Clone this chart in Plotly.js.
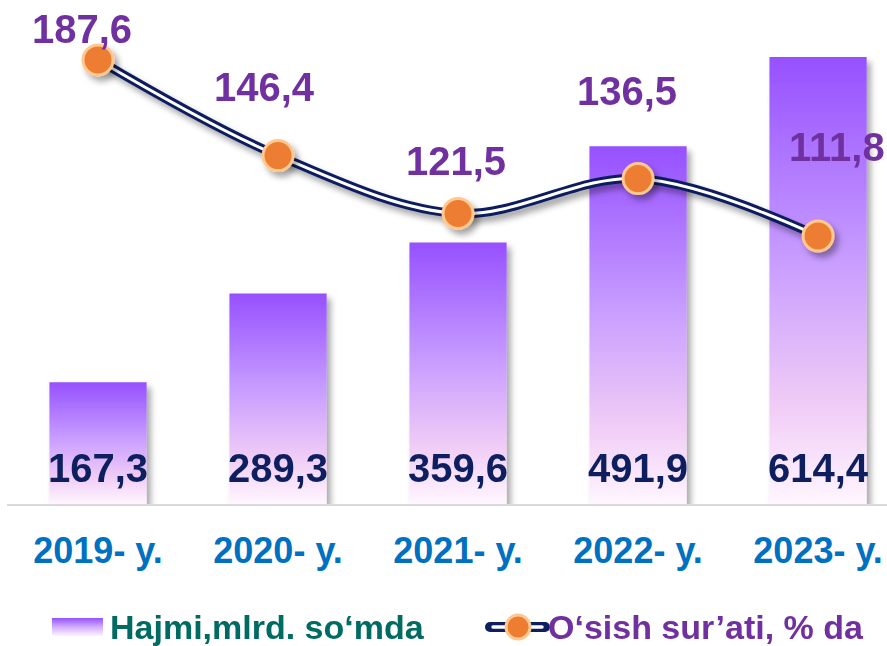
<!DOCTYPE html>
<html>
<head>
<meta charset="utf-8">
<script src="https://cdn.plot.ly/plotly-3.0.1.min.js"></script>
<style>
  html, body { margin: 0; padding: 0; background: #ffffff; }
  #chart { width: 887px; height: 646px; }
</style>
</head>
<body>
<div id="chart"></div>
<script>
// ---- data ----
const categories = ['2019- y.', '2020- y.', '2021- y.', '2022- y.', '2023- y.'];
const volume = [167.3, 289.3, 359.6, 491.9, 614.4];      // Hajmi, mlrd. so'mda
const growth = [187.6, 146.4, 121.5, 136.5, 111.8];      // O'sish sur'ati, %
const volumeName = 'Hajmi,mlrd. so‘mda';
const growthName = 'O‘sish sur’ati, % da';

// ---- label placement (pixel offsets from each point) ----
const growthLabelShift = [[-16, -31], [-14, -69], [-2, -52], [-11, -88], [19, -89]];

const FONT = 'Arial, "Liberation Sans", sans-serif';
const NAVY = '#0D1F5E';
const PURPLE = '#7030A0';
const BLUE = '#0070C0';
const TEAL = '#006B63';
const ORANGE = '#ED7D31';
const ORANGE_RIM = '#FFC88F';

const fmt = v => v.toFixed(1).replace('.', ',');

const traces = [
  {
    type: 'bar', x: categories, y: volume, name: volumeName,
    width: 0.54, marker: { color: '#B884FF', line: { width: 0 } },
    hoverinfo: 'skip', showlegend: false
  },
  {
    type: 'scatter', mode: 'lines', x: categories, y: growth, yaxis: 'y2',
    line: { color: NAVY, width: 9, shape: 'spline', smoothing: 1 },
    hoverinfo: 'skip', showlegend: false
  },
  {
    type: 'scatter', mode: 'lines', x: categories, y: growth, yaxis: 'y2',
    line: { color: '#ffffff', width: 3, shape: 'spline', smoothing: 1 },
    hoverinfo: 'skip', showlegend: false
  },
  {
    type: 'scatter', mode: 'markers', x: categories, y: growth, yaxis: 'y2', name: growthName,
    marker: { size: 30, color: ORANGE, line: { color: ORANGE_RIM, width: 3 } },
    hoverinfo: 'skip', showlegend: false
  }
];

const annotations = [];
categories.forEach((c, i) => {
  annotations.push({
    x: c, y: 0, xref: 'x', yref: 'y', yanchor: 'bottom', yshift: 12,
    text: fmt(volume[i]), showarrow: false,
    font: { family: FONT, size: 40, weight: 'bold', color: NAVY }
  });
  annotations.push({
    x: c, y: growth[i], xref: 'x', yref: 'y2', xanchor: 'center', yanchor: 'middle',
    xshift: growthLabelShift[i][0], yshift: -growthLabelShift[i][1],
    text: fmt(growth[i]), showarrow: false,
    font: { family: FONT, size: 40, weight: 'bold', color: PURPLE }
  });
});

// legend (custom, drawn in paper coordinates)
const PL = 7, PW = 880, PH = 504;
const px = x => (x - PL) / PW;
const py = y => (PH - y) / PH;
annotations.push({
  x: px(108), y: py(627), xref: 'paper', yref: 'paper', xanchor: 'left', yanchor: 'middle',
  text: volumeName, showarrow: false,
  font: { family: FONT, size: 34, weight: 'bold', color: TEAL }
});
annotations.push({
  x: px(546), y: py(627), xref: 'paper', yref: 'paper', xanchor: 'left', yanchor: 'middle',
  text: growthName, showarrow: false,
  font: { family: FONT, size: 34, weight: 'bold', color: PURPLE }
});

const shapes = [
  { type: 'rect', xref: 'paper', yref: 'paper', x0: px(52), x1: px(103), y0: py(618), y1: py(636),
    fillcolor: '#B884FF', line: { width: 0 } },
  { type: 'line', xref: 'paper', yref: 'paper', x0: px(490), x1: px(545), y0: py(627), y1: py(627),
    line: { color: NAVY, width: 10 } },
  { type: 'line', xref: 'paper', yref: 'paper', x0: px(493), x1: px(542), y0: py(627), y1: py(627),
    line: { color: '#ffffff', width: 3.5 } },
  { type: 'circle', xref: 'paper', yref: 'paper', x0: px(506), x1: px(530), y0: py(615), y1: py(639),
    fillcolor: ORANGE, line: { color: ORANGE_RIM, width: 3 } }
];

const layout = {
  width: 887, height: 646,
  margin: { l: 7, r: 0, t: 0, b: 142 },
  paper_bgcolor: '#ffffff', plot_bgcolor: 'rgba(0,0,0,0)',
  showlegend: false,
  xaxis: {
    type: 'category', range: [-0.5056, 4.383],
    showline: true, linecolor: '#D9D9D9', linewidth: 2,
    ticks: '', showgrid: false, zeroline: false,
    ticklabelstandoff: 14,
    tickfont: { family: FONT, size: 36, weight: 'bold', color: BLUE }
  },
  yaxis: { range: [0, 692.8], visible: false, showgrid: false, zeroline: false },
  yaxis2: { range: [-3.6, 213.4], overlaying: 'y', visible: false, showgrid: false, zeroline: false },
  annotations: annotations,
  shapes: shapes
};

const gd = document.getElementById('chart');
Plotly.newPlot(gd, traces, layout, { displayModeBar: false, staticPlot: true }).then(() => {
  const NS = 'http://www.w3.org/2000/svg';
  const svg = gd.querySelector('svg.main-svg');
  let defs = svg.querySelector('defs');
  if (!defs) { defs = document.createElementNS(NS, 'defs'); svg.insertBefore(defs, svg.firstChild); }
  function el(tag, attrs, parent) {
    const e = document.createElementNS(NS, tag);
    for (const k in attrs) e.setAttribute(k, attrs[k]);
    parent.appendChild(e);
    return e;
  }
  function grad(id, stops) {
    const g = el('linearGradient', { id: id, x1: '0', y1: '0', x2: '0', y2: '1' }, defs);
    stops.forEach(s => el('stop', { offset: s[0], 'stop-color': s[1] }, g));
  }
  grad('barGrad', [['0', '#9650FF'], ['0.45', '#C79CFF'], ['0.78', '#F0CCF6'], ['1', '#FFF6FF']]);
  grad('legGrad', [['0', '#9650FF'], ['0.5', '#D2AEFF'], ['1', '#FFF3FF']]);
  const f = el('filter', { id: 'shadow', x: '-20%', y: '-20%', width: '150%', height: '150%' }, defs);
  el('feDropShadow', { dx: '4', dy: '5', stdDeviation: '3', 'flood-color': '#000000', 'flood-opacity': '0.35' }, f);

  gd.querySelectorAll('.barlayer .point path').forEach(p => {
    p.style.fill = 'url(#barGrad)';
    p.setAttribute('filter', 'url(#shadow)');
  });
  const scTraces = gd.querySelectorAll('.scatterlayer .trace');
  if (scTraces[0]) scTraces[0].setAttribute('filter', 'url(#shadow)');
  if (scTraces[2]) scTraces[2].setAttribute('filter', 'url(#shadow)');
  const shp = gd.querySelectorAll('.shapelayer path');
  if (shp[0]) shp[0].style.fill = 'url(#legGrad)';
  shp.forEach((p, i) => { if (i === 1 || i === 2) p.style.strokeLinecap = 'round'; });
});
</script>
</body>
</html>
